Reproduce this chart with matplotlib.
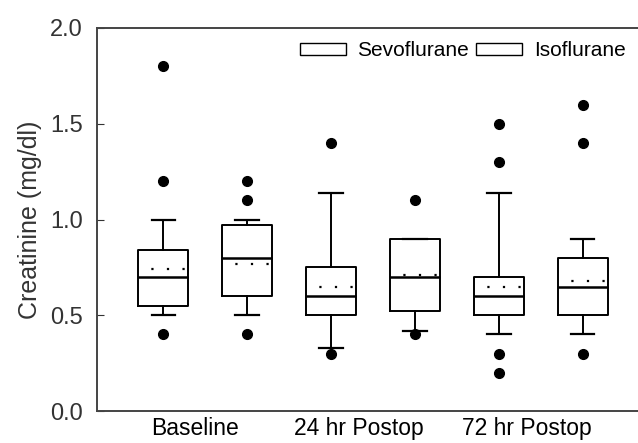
import matplotlib
matplotlib.use("Agg")
import matplotlib.pyplot as plt
from matplotlib.patches import Patch

plt.rcParams['font.family'] = ['Liberation Sans', 'DejaVu Sans']

# Box summary values (mg/dl), order: Sevo/Iso for each time point
groups = ["Baseline", "24 hr Postop", "72 hr Postop"]
labels = ["Baseline Sevo", "Baseline Iso", "24h Sevo", "24h Iso", "72h Sevo", "72h Iso"]
whislo = [0.50, 0.50, 0.33, 0.42, 0.40, 0.40]
q1s = [0.55, 0.60, 0.50, 0.52, 0.50, 0.50]
medians = [0.70, 0.80, 0.60, 0.70, 0.60, 0.65]
means = [0.74, 0.77, 0.65, 0.71, 0.65, 0.68]
q3s = [0.84, 0.97, 0.75, 0.90, 0.70, 0.80]
whishi = [1.00, 1.00, 1.14, 0.90, 1.14, 0.90]
fliers = [[1.8, 1.2, 0.4], [1.2, 1.1, 0.4], [1.4, 0.3],
          [1.1, 0.4], [1.5, 1.3, 0.3, 0.2], [1.6, 1.4, 0.3]]

stats = []
for i in range(len(labels)):
    stats.append(dict(label=labels[i], whislo=whislo[i], q1=q1s[i], med=medians[i],
                      mean=means[i], q3=q3s[i], whishi=whishi[i], fliers=fliers[i]))

fig = plt.figure(figsize=(6.38, 4.43), dpi=100)
ax = fig.add_axes([0.152, 0.072, 0.86, 0.865])

positions = [1, 2, 3, 4, 5, 6]
ax.bxp(stats, positions=positions, widths=0.6, capwidths=0.28,
       showmeans=True, meanline=True, patch_artist=False,
       boxprops=dict(color='black', linewidth=1.4),
       medianprops=dict(color='black', linewidth=1.8),
       meanprops=dict(color='black', linewidth=1.6, linestyle=(1, (1, 6))),
       whiskerprops=dict(color='black', linewidth=1.4),
       capprops=dict(color='black', linewidth=1.6),
       flierprops=dict(marker='o', markerfacecolor='black', markeredgecolor='black',
                       markersize=7, linestyle='none'))

ax.set_xlim(0.21, 6.75)
ax.set_ylim(0, 2.0)
ax.set_yticks([0.0, 0.5, 1.0, 1.5, 2.0])
ax.set_yticklabels(["0.0", "0.5", "1.0", "1.5", "2.0"])
# group labels sit slightly left of the pair centres in the original
ax.set_xticks([1.38, 3.33, 5.34])
ax.set_xticklabels(groups)
ax.tick_params(axis='x', length=0, labelsize=16.5, pad=4)
ax.tick_params(axis='y', direction='in', length=5, labelsize=17, pad=10, colors='#333333')
ax.set_ylabel("Creatinine (mg/dl)", fontsize=18, color='#333333', labelpad=6)

for s in ['left', 'top', 'bottom']:
    ax.spines[s].set_color('#444444')
    ax.spines[s].set_linewidth(1.4)
ax.spines['right'].set_visible(False)

handles = [Patch(facecolor='white', edgecolor='black', linewidth=1.0),
           Patch(facecolor='white', edgecolor='black', linewidth=1.0)]
ax.legend(handles, ["Sevoflurane", "Isoflurane"], ncol=2, frameon=False,
          loc='upper left', bbox_to_anchor=(300 / 638, 1 - 41 / 443),
          bbox_transform=fig.transFigure, borderpad=0, borderaxespad=0, fontsize=15,
          handlelength=2.2, handleheight=0.5, handletextpad=0.55, columnspacing=0.35)

fig.savefig("out.png", dpi=100)
